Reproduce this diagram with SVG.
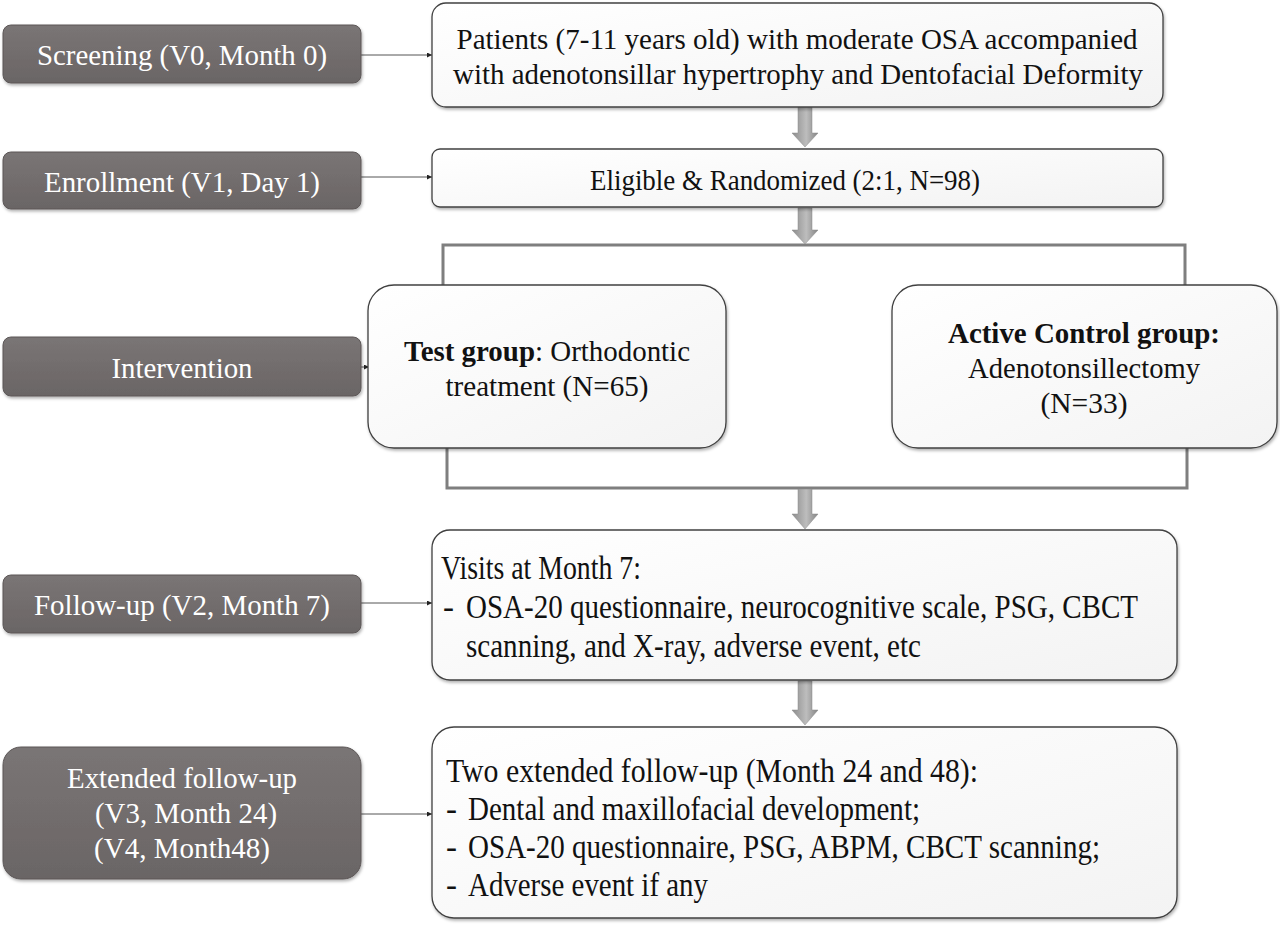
<svg xmlns="http://www.w3.org/2000/svg" width="1280" height="925" viewBox="0 0 1280 925">
<style>
.lbox{fill:url(#gDark);stroke:#5c5757;stroke-width:1;filter:url(#sh)}
.rbox{fill:url(#gLight);stroke:#404040;stroke-width:1.3;filter:url(#sh)}
.lt{font-family:"Liberation Serif","Times New Roman",serif;font-size:30px;fill:#ffffff;text-anchor:middle}
.rt{font-family:"Liberation Serif","Times New Roman",serif;font-size:30px;fill:#111111;text-anchor:middle}
.ct{font-family:"Liberation Serif","Times New Roman",serif;font-size:33px;fill:#111111}
.thin{stroke:#555555;stroke-width:1;fill:none;marker-end:url(#ah)}
.brk{stroke:#7f7f7f;stroke-width:3;fill:none}
.blk{fill:url(#gArrow);stroke:#8a8a8a;stroke-width:0.5}
</style>
<defs>
<linearGradient id="gDark" x1="0" y1="0" x2="0" y2="1">
<stop offset="0" stop-color="#7a7575"/>
<stop offset="1" stop-color="#6a6565"/>
</linearGradient>
<linearGradient id="gLight" x1="0" y1="0" x2="1" y2="1">
<stop offset="0" stop-color="#ffffff"/>
<stop offset="1" stop-color="#f3f3f3"/>
</linearGradient>
<linearGradient id="gArrow" x1="0" y1="0" x2="1" y2="0">
<stop offset="0" stop-color="#8c8c8c"/>
<stop offset="0.55" stop-color="#bdbdbd"/>
<stop offset="1" stop-color="#858585"/>
</linearGradient>
<filter id="sh" x="-5%" y="-5%" width="110%" height="115%">
<feDropShadow dx="1" dy="2" stdDeviation="1.5" flood-color="#000000" flood-opacity="0.3"/>
</filter>
<marker id="ah" viewBox="0 0 6 6" refX="6" refY="3" markerWidth="5" markerHeight="5" orient="auto" markerUnits="userSpaceOnUse">
<path d="M0,0 L6,3 L0,6 Z" fill="#222222"/>
</marker>
</defs>

<g id="connectors">
<line class="thin" x1="361" y1="55" x2="432" y2="55"/>
<line class="thin" x1="361" y1="177" x2="432" y2="177"/>
<line class="thin" x1="361" y1="367" x2="369" y2="367"/>
<line class="thin" x1="361" y1="603" x2="432" y2="603"/>
<line class="thin" x1="361" y1="814" x2="432" y2="814"/>
<path class="brk" d="M443,286 V245 H1185 V286"/>
<path class="brk" d="M447,447 V488 H1187 V447"/>
<path class="blk" d="M798,107 H812 V133 H818 L805,147 L792,133 H798 Z"/>
<path class="blk" d="M798,208 H812 V230 H818 L805,244 L792,230 H798 Z"/>
<path class="blk" d="M798,489 H812 V514 H818 L805,529 L792,514 H798 Z"/>
<path class="blk" d="M798,681 H812 V710 H818 L805,725 L792,710 H798 Z"/>
</g>

<g id="screening">
<rect class="lbox" x="3" y="25" width="358" height="58" rx="8"/>
<text class="lt" x="182" y="65" textLength="290" lengthAdjust="spacingAndGlyphs">Screening (V0, Month 0)</text>
</g>
<g id="enrollment">
<rect class="lbox" x="3" y="152" width="358" height="57" rx="8"/>
<text class="lt" x="182" y="192" textLength="276" lengthAdjust="spacingAndGlyphs">Enrollment (V1, Day 1)</text>
</g>
<g id="intervention">
<rect class="lbox" x="3" y="337" width="358" height="59" rx="8"/>
<text class="lt" x="182" y="378" textLength="141" lengthAdjust="spacingAndGlyphs">Intervention</text>
</g>
<g id="followup">
<rect class="lbox" x="3" y="575" width="358" height="58" rx="8"/>
<text class="lt" x="182" y="615" textLength="296" lengthAdjust="spacingAndGlyphs">Follow-up (V2, Month 7)</text>
</g>
<g id="extended">
<rect class="lbox" x="3" y="747" width="358" height="132" rx="18"/>
<text class="lt" x="182" y="788" textLength="230" lengthAdjust="spacingAndGlyphs">Extended follow-up</text>
<text class="lt" x="186" y="823" textLength="182" lengthAdjust="spacingAndGlyphs">(V3, Month 24)</text>
<text class="lt" x="182" y="858" textLength="176" lengthAdjust="spacingAndGlyphs">(V4, Month48)</text>
</g>

<g id="patients">
<rect class="rbox" x="432" y="3" width="731" height="104" rx="14"/>
<text class="rt" x="797" y="49" textLength="681" lengthAdjust="spacingAndGlyphs">Patients (7-11 years old) with moderate OSA accompanied</text>
<text class="rt" x="798" y="84" textLength="690" lengthAdjust="spacingAndGlyphs">with adenotonsillar hypertrophy and Dentofacial Deformity</text>
</g>
<g id="eligible">
<rect class="rbox" x="432" y="149" width="731" height="58" rx="8"/>
<text class="rt" x="785" y="190" textLength="390" lengthAdjust="spacingAndGlyphs">Eligible &amp; Randomized (2:1, N=98)</text>
</g>
<g id="testgroup">
<rect class="rbox" x="368" y="285" width="358" height="163" rx="26"/>
<text class="rt" x="547" y="361" textLength="286" lengthAdjust="spacingAndGlyphs"><tspan font-weight="bold">Test group</tspan>: Orthodontic</text>
<text class="rt" x="547" y="396" textLength="203" lengthAdjust="spacingAndGlyphs">treatment (N=65)</text>
</g>
<g id="controlgroup">
<rect class="rbox" x="892" y="285" width="385" height="163" rx="26"/>
<text class="rt" x="1084" y="343" font-weight="bold" textLength="272" lengthAdjust="spacingAndGlyphs">Active Control group:</text>
<text class="rt" x="1084" y="378" textLength="232" lengthAdjust="spacingAndGlyphs">Adenotonsillectomy</text>
<text class="rt" x="1084" y="413" textLength="87" lengthAdjust="spacingAndGlyphs">(N=33)</text>
</g>
<g id="visits">
<rect class="rbox" x="432" y="530" width="745" height="150" rx="18"/>
<text class="ct" x="441" y="579" textLength="200" lengthAdjust="spacingAndGlyphs">Visits at Month 7:</text>
<text class="ct" x="443" y="618">-</text>
<text class="ct" x="466" y="618" textLength="672" lengthAdjust="spacingAndGlyphs">OSA-20 questionnaire, neurocognitive scale, PSG, CBCT</text>
<text class="ct" x="466" y="657" textLength="455" lengthAdjust="spacingAndGlyphs">scanning, and X-ray, adverse event, etc</text>
</g>
<g id="extendedfu">
<rect class="rbox" x="432" y="727" width="745" height="191" rx="22"/>
<text class="ct" x="446" y="782" textLength="532" lengthAdjust="spacingAndGlyphs">Two extended follow-up (Month 24 and 48):</text>
<text class="ct" x="446" y="820">-</text>
<text class="ct" x="468" y="820" textLength="452" lengthAdjust="spacingAndGlyphs">Dental and maxillofacial development;</text>
<text class="ct" x="446" y="858">-</text>
<text class="ct" x="468" y="858" textLength="632" lengthAdjust="spacingAndGlyphs">OSA-20 questionnaire, PSG, ABPM, CBCT scanning;</text>
<text class="ct" x="446" y="896">-</text>
<text class="ct" x="468" y="896" textLength="240" lengthAdjust="spacingAndGlyphs">Adverse event if any</text>
</g>
</svg>
